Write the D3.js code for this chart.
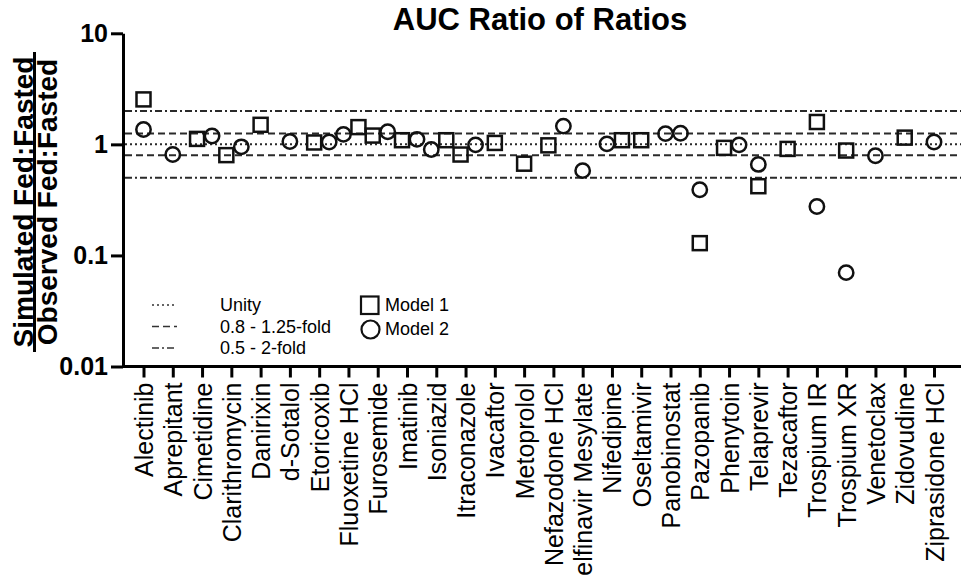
<!DOCTYPE html>
<html>
<head>
<meta charset="utf-8">
<script src="https://cdn.jsdelivr.net/npm/d3@7"></script>
<style>
body { margin: 0; background: #fff; overflow: hidden; }
text { font-family: "Liberation Sans", Arial, sans-serif; }
</style>
</head>
<body>
<script>
"use strict";

//drug names along the x axis
const drugs = ["Alectinib", "Aprepitant", "Cimetidine", "Clarithromycin", "Danirixin", "d-Sotalol",
	"Etoricoxib", "Fluoxetine HCl", "Furosemide", "Imatinib", "Isoniazid", "Itraconazole", "Ivacaftor",
	"Metoprolol", "Nefazodone HCl", "Nelfinavir Mesylate", "Nifedipine", "Oseltamivir", "Panobinostat",
	"Pazopanib", "Phenytoin", "Telaprevir", "Tezacaftor", "Trospium IR", "Trospium XR", "Venetoclax",
	"Zidovudine", "Ziprasidone HCl"];

//ratio of ratios, null = not shown
const model1 = [2.54, null, 1.12, 0.80, 1.50, null, 1.04, 1.43, 1.20, 1.09, 1.09, 0.81, 1.03,
	0.67, 0.98, null, 1.09, 1.09, 1.25, 0.129, 0.93, 0.42, 0.91, 1.59, 0.88, null, 1.15, null];
const model2 = [1.36, 0.81, 1.19, 0.95, null, 1.06, 1.05, 1.23, 1.30, 1.11, 0.90, 0.99, null,
	null, 1.46, 0.58, 1.01, null, 1.26, 0.39, 0.99, 0.66, null, 0.276, 0.070, 0.79, null, 1.05];
//model 1 points drawn with the circle symbol in the original
const model1AsCircle = ["Panobinostat"];

const yTicks = [10, 1, 0.1, 0.01];
const yTickLabels = ["10", "1", "0.1", "0.01"];

const refValues = [2, 1.25, 1, 0.8, 0.5];
const refKinds = ["dashdot", "dash", "dot", "dash", "dashdot"];

const legendKinds = ["dot", "dash", "dashdot"];
const legendLabels = ["Unity", "0.8 - 1.25-fold", "0.5 - 2-fold"];
const seriesNames = ["Model 1", "Model 2"];

(function()
{
	const width = 961, height = 577;
	const dashes = { dot: "2,3", dash: "7,4", dashdot: "7,3,2,3" };

	let svg = d3.select("body").append("svg")
		.attr("width", width)
		.attr("height", height);

	let x = d3.scalePoint()
		.domain(drugs)
		.range([143.5, 934]);
	let y = d3.scaleLog()
		.domain([0.01, 10])
		.range([366.5, 33.3]);

	//reference lines
	svg.append("g")
		.selectAll("line")
		.data(refValues)
		.join("line")
		.attr("x1", 125)
		.attr("x2", width)
		.attr("y1", d => y(d))
		.attr("y2", d => y(d))
		.attr("stroke", "#2a2a2a")
		.attr("stroke-width", 2)
		.attr("stroke-dasharray", (d, i) => dashes[refKinds[i]]);

	//y axis
	let yAxis = svg.append("g")
		.attr("transform", "translate(123,0)")
		.call(d3.axisLeft(y)
			.tickValues(yTicks)
			.tickFormat((d, i) => yTickLabels[i])
			.tickSize(12)
			.tickSizeOuter(0)
			.tickPadding(3));
	yAxis.selectAll("path, line").attr("stroke", "#000").attr("stroke-width", 3);
	yAxis.selectAll("text")
		.attr("font-size", 25)
		.attr("font-weight", "bold")
		.attr("fill", "#000");

	//x axis
	let xAxis = svg.append("g")
		.attr("transform", "translate(0," + y(0.01) + ")")
		.call(d3.axisBottom(x).tickSize(11).tickSizeOuter(0));
	xAxis.select(".domain").remove();
	xAxis.append("line")
		.attr("x1", 122)
		.attr("x2", width)
		.attr("stroke", "#000")
		.attr("stroke-width", 3);
	xAxis.selectAll(".tick line").attr("stroke", "#000").attr("stroke-width", 3);
	xAxis.selectAll(".tick text")
		.attr("transform", "rotate(-90)")
		.attr("text-anchor", "end")
		.attr("x", -16)
		.attr("y", 9)
		.attr("dy", 0)
		.attr("font-size", 25)
		.attr("fill", "#000");

	//points, spread sideways when the two models sit close together
	let points = [];
	drugs.forEach(function(name, i)
	{
		let a = model1[i], b = model2[i];
		let da = 0, db = 0;
		if (a != null && b != null && Math.abs(y(a) - y(b)) < 20)
		{
			if (a <= b) { da = -5; db = 10; }
			else { da = 10; db = -5; }
		}
		if (a != null) points.push({ name: name, v: a, dx: da, shape: model1AsCircle.includes(name) ? "circle" : "square" });
		if (b != null) points.push({ name: name, v: b, dx: db, shape: "circle" });
	});

	let marks = svg.append("g")
		.attr("fill", "none")
		.attr("stroke", "#111")
		.attr("stroke-width", 2.5);
	marks.selectAll("rect")
		.data(points.filter(p => p.shape == "square"))
		.join("rect")
		.attr("x", d => x(d.name) + d.dx - 7)
		.attr("y", d => y(d.v) - 7)
		.attr("width", 14)
		.attr("height", 14);
	marks.selectAll("circle")
		.data(points.filter(p => p.shape == "circle"))
		.join("circle")
		.attr("cx", d => x(d.name) + d.dx)
		.attr("cy", d => y(d.v))
		.attr("r", 7.2);

	//legend
	let legend = svg.append("g");
	legendKinds.forEach(function(kind, i)
	{
		let ly = 305 + i * 21.5;
		legend.append("line")
			.attr("x1", 152).attr("x2", 177)
			.attr("y1", ly).attr("y2", ly)
			.attr("stroke", "#333")
			.attr("stroke-width", 1.6)
			.attr("stroke-dasharray", dashes[kind]);
		legend.append("text")
			.attr("x", 220)
			.attr("y", ly + 6)
			.attr("font-size", 18)
			.text(legendLabels[i]);
	});
	legend.append("rect")
		.attr("x", 361).attr("y", 296.5)
		.attr("width", 17.5).attr("height", 17.5)
		.attr("fill", "none").attr("stroke", "#111").attr("stroke-width", 2.2);
	legend.append("circle")
		.attr("cx", 370.5).attr("cy", 329.5).attr("r", 9)
		.attr("fill", "none").attr("stroke", "#111").attr("stroke-width", 2.2);
	seriesNames.forEach(function(s, i)
	{
		legend.append("text")
			.attr("x", 385)
			.attr("y", 311 + i * 24)
			.attr("font-size", 18)
			.text(s);
	});

	//title
	svg.append("text")
		.attr("x", 540)
		.attr("y", 30)
		.attr("text-anchor", "middle")
		.attr("font-size", 31)
		.attr("font-weight", "bold")
		.text("AUC Ratio of Ratios");

	//y axis title written as a fraction
	let yTitle = svg.append("g")
		.attr("transform", "translate(33,202) rotate(-90)")
		.attr("font-size", 28)
		.attr("font-weight", "bold")
		.attr("text-anchor", "middle");
	yTitle.append("text").text("Simulated Fed:Fasted");
	yTitle.append("line")
		.attr("x1", -150).attr("x2", 150)
		.attr("y1", 1.5).attr("y2", 1.5)
		.attr("stroke", "#000")
		.attr("stroke-width", 3);
	yTitle.append("text").attr("y", 24).text("Observed Fed:Fasted");
})();
</script>
</body>
</html>
